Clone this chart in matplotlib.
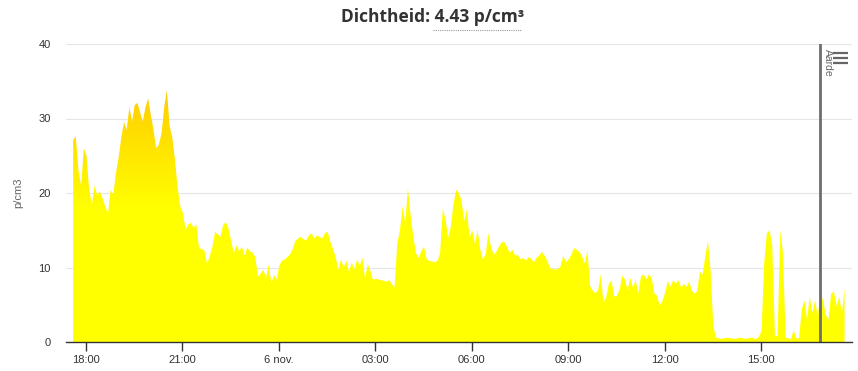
import numpy as np
import matplotlib
matplotlib.use('Agg')
import matplotlib.pyplot as plt
from matplotlib.colors import LinearSegmentedColormap
from matplotlib.lines import Line2D

# particle density, one value every 5 minutes (5 nov 17:36 -> 6 nov 17:36)
START_HOUR = 17.6          # hours since 5 nov 00:00
STEP_MIN = 5
VALUES = [
    27.1, 27.6, 23, 21, 26, 25, 20.4, 18.4, 21, 19.7,
    20.2, 19.3, 18.2, 17.2, 20.4, 19.8, 22.7, 24.8, 27.5, 29.5,
    28.5, 31.5, 29.6, 31.8, 32.1, 30.8, 29.6, 31.5, 32.7, 30.5,
    28.5, 26, 26.5, 28, 31.5, 33.8, 29, 27.5, 24.5, 20.8,
    18.2, 17.3, 15, 15.8, 16, 15.3, 15.8, 12.6,
    12.5, 12.3, 10.5, 11.5, 12.8, 14.8, 14.5, 14.1, 15.7, 16.1,
    15.2, 13.6, 11.9, 13, 12.2, 12.8, 11.6, 12.7, 12.2, 12,
    11.4, 8.8, 9.2, 9.7, 8.6, 10.4, 7.9, 9, 8.4, 10.3,
    10.9, 11.1, 11.4, 11.8, 12.5, 13.6, 13.9, 14.1, 13.8, 13.6,
    14.3, 14.6, 13.9, 14.3, 14.1, 13.9, 14.6, 14.8,
    13.5, 12.5, 11.4, 9.7, 11.1, 10, 10.9, 9.4, 10.7, 9.7,
    11.1, 10.2, 11.3, 8.5, 10.5, 9.5, 8.3, 8.5, 8.4, 8.3,
    8.2, 8.1, 8.3, 7.8, 7.3, 13.2, 15, 18.2, 16, 20.6,
    17, 14.1, 11.9, 11.3, 12.2, 12.8, 11.1, 10.9, 10.8, 10.7,
    10.9, 11.9, 17.9, 16.5, 14, 15.5, 18.5, 20.4, 20,
    19, 16.2, 17.9, 14, 15, 13.2, 15, 12.4, 11.1, 11.8,
    14.6, 12.8, 11.7, 12.1, 12.8, 13.4, 13.4, 12.8, 11.9, 12.4,
    11.6, 11.7, 11.1, 11.3, 10.9, 11.4, 11.2, 10.7, 11.3, 11.6,
    12.1, 11.6, 10.9, 10, 9.8, 9.7, 9.8, 10.2, 11.6, 10.7,
    11.1, 11.7, 12.6, 12.4, 12.1, 11.5, 10.5, 12.3,
    7.5, 6.9, 6.5, 7, 9.1, 5.3, 6, 7.8, 8.3, 6.1,
    6.2, 7, 8.9, 8.4, 7, 8.6, 7.3, 8.3, 6.5, 8.8,
    9.1, 8.4, 9.1, 8.6, 6.5, 6.2, 4.9, 5.5, 6.6, 8.2,
    7.4, 8.3, 7.8, 8.3, 7.3, 7.8, 7.4, 8.1, 6.9, 6.5,
    6.8, 9.5, 9, 11.5, 13.6, 9.5, 2.2, 0.6,
    0.5, 0.4, 0.5, 0.6, 0.5, 0.5, 0.4, 0.5, 0.6, 0.5,
    0.4, 0.5, 0.6, 0.5, 0.4, 0.7, 1.5, 10.6, 14.6, 15,
    13, 0.8, 0.8, 15, 12, 0.6, 0.5, 0.4, 1.6, 0.5,
    0.5, 4.3, 5.6, 3, 6.1, 3.9, 5.6, 3.5, 6.3, 5.6,
    3.6, 3, 6.5, 6.8, 4.8, 6.1, 3.9, 7.2,
]
TICK_HOURS = [18, 21, 24, 27, 30, 33, 36, 39]
TICK_LABELS = ['18:00', '21:00', '6 nov.', '03:00', '06:00', '09:00', '12:00', '15:00']
Y_TICKS = [0, 10, 20, 30, 40]
MARKER_HOUR = 40 + 50 / 60
MARKER_LABEL = 'Aarde'
TITLE = 'Dichtheid: 4.43 p/cm\u00b3'
Y_LABEL = 'p/cm3'

W, H = 858, 371
fig = plt.figure(figsize=(W / 100, H / 100), dpi=100)
ax = fig.add_axes([66 / W, (H - 342) / H, (852 - 66) / W, (342 - 44) / H])

hours = START_HOUR + np.arange(len(VALUES)) * STEP_MIN / 60.0
xmin, xmax = 17.378, 41.831

# area with vertical yellow -> gold gradient
poly = ax.fill_between(hours, 0, VALUES, facecolor='none', edgecolor='none', lw=0, zorder=2)
cmap = LinearSegmentedColormap.from_list(
    'dens', [(0, '#ffff00'), (18 / 40, '#ffff00'), (25 / 40, '#ffe800'),
             (33 / 40, '#ffcf00'), (1, '#ffc400')])
grad = np.linspace(0, 1, 256).reshape(-1, 1)
im = ax.imshow(grad, extent=[xmin, xmax, 0, 40], origin='lower', aspect='auto',
               cmap=cmap, zorder=2, interpolation='bilinear')
im.set_clip_path(poly.get_paths()[0], transform=ax.transData)

ax.set_xlim(xmin, xmax)
ax.set_ylim(0, 40)

# plot line
ax.axvline(MARKER_HOUR, color='#6e6e6e', lw=2, zorder=4)
ax.text(MARKER_HOUR + 0.08, 39.3, MARKER_LABEL, rotation=-90, ha='left', va='top',
        color='#666666', fontsize=7.5, family='Liberation Sans', zorder=5)

# axes styling
for s in ['top', 'right', 'left']:
    ax.spines[s].set_visible(False)
ax.spines['bottom'].set_color('#333333')
ax.spines['bottom'].set_linewidth(1)
ax.spines['bottom'].set_zorder(5)
ax.set_yticks(Y_TICKS)
ax.yaxis.grid(True, color='#e6e6e6', lw=0.8, zorder=0)
ax.set_axisbelow(True)
ax.tick_params(axis='y', length=0, pad=11, labelsize=8, labelcolor='#333333')
ax.set_xticks(TICK_HOURS)
ax.set_xticklabels(TICK_LABELS)
ax.tick_params(axis='x', direction='out', length=6.5, width=1, color='#333333',
               pad=3, labelsize=8, labelcolor='#333333')
for lab in ax.get_xticklabels() + ax.get_yticklabels():
    lab.set_family('Liberation Sans')

ax.set_ylabel(Y_LABEL, fontsize=8, color='#666666', family='Liberation Sans')
ax.yaxis.set_label_coords((23 - 66) / (852 - 66), 0.5)

# title with dotted underline on the value
fig.text(433 / W, 1 - 17 / H, TITLE, ha='center', va='center', fontsize=12.5,
         fontweight='bold', color='#333333', family='Open Sans')
fig.add_artist(Line2D([433 / W, 521 / W], [1 - 29.5 / H] * 2, color='#999999',
                      lw=0.8, linestyle=(0, (1, 1))))

# hamburger menu icon
for yy in [52.7, 58, 63.3]:
    fig.add_artist(Line2D([833 / W, 848 / W], [1 - yy / H] * 2, color='#666666',
                          lw=1.6, solid_capstyle='butt'))

fig.savefig('out.png', dpi=100)
